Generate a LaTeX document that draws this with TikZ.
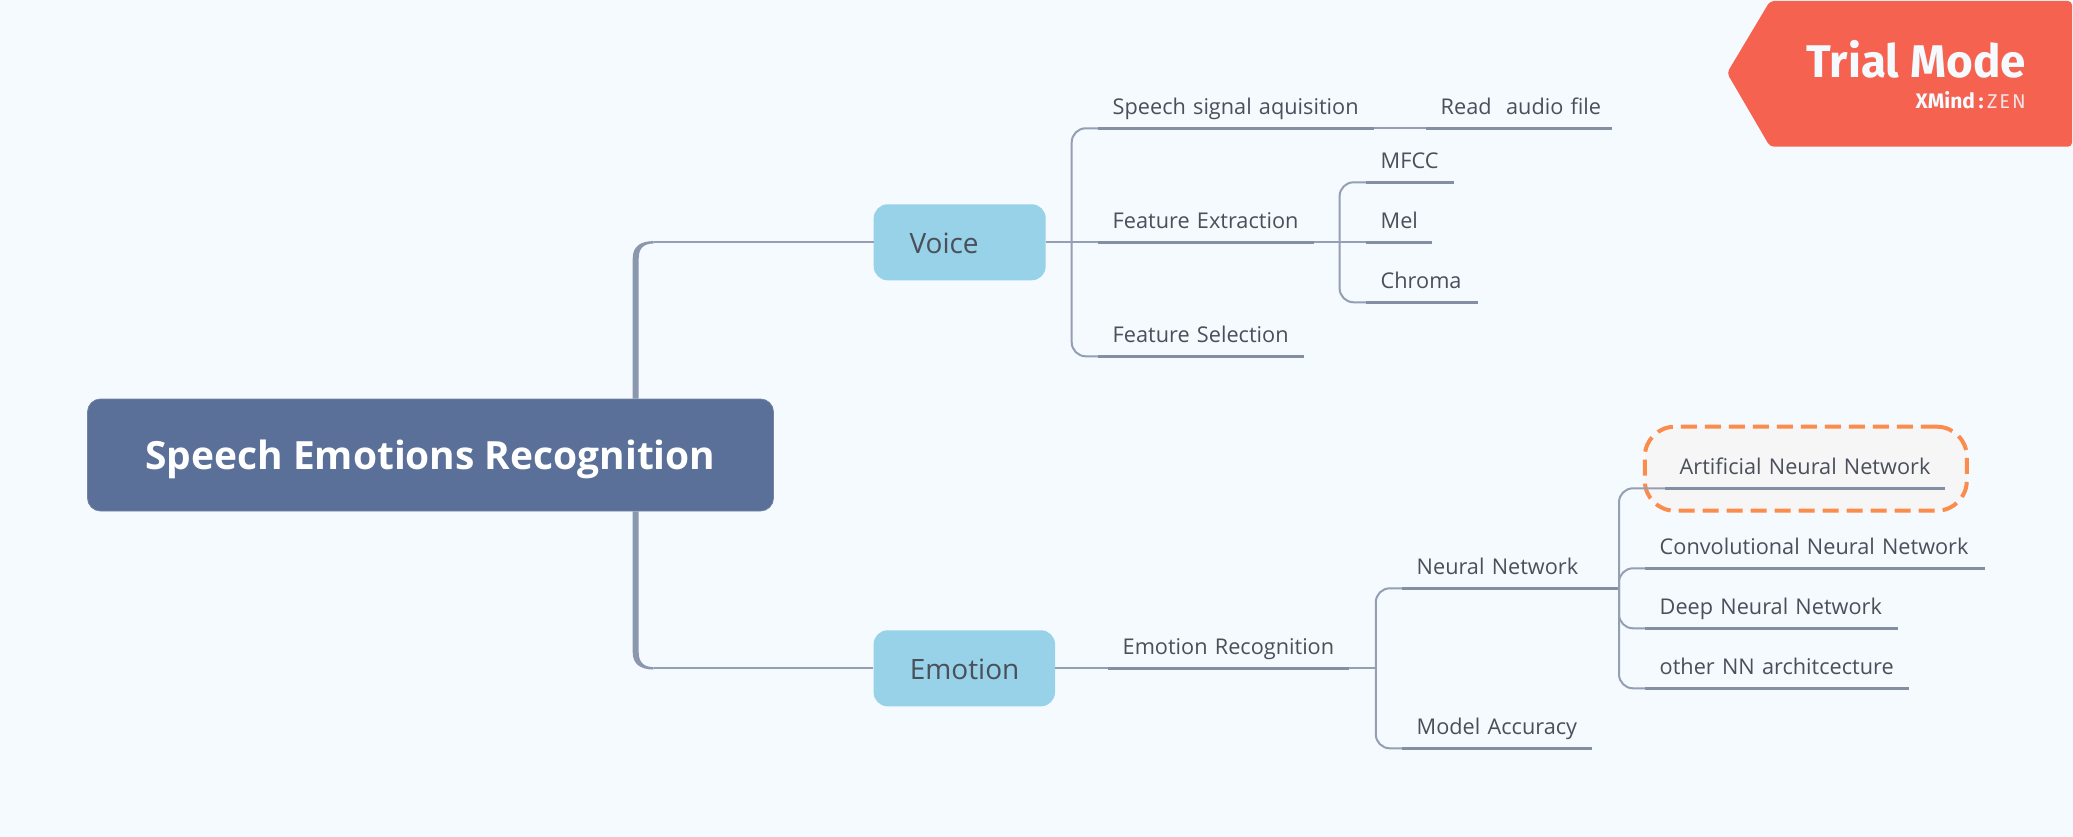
\documentclass[tikz,border=0pt]{standalone}
\usepackage{fontspec}
\setmainfont{Open Sans}
\newfontfamily\trialfont{Fira Sans}
\newfontfamily\zenfont{Fira Sans}[LetterSpace=10]
\usetikzlibrary{calc, positioning}
\definecolor{bgcol}{HTML}{F5FAFF}
\definecolor{rootcol}{HTML}{5A7099}
\definecolor{rootline}{HTML}{8B97AD}
\definecolor{subcol}{HTML}{97D2E8}
\definecolor{linecol}{HTML}{959FB3}
\definecolor{ulinecol}{HTML}{858FA3}
\definecolor{txtcol}{HTML}{4A4F5A}
\definecolor{trialcol}{HTML}{F56350}
\definecolor{hilitecol}{HTML}{FB8C4B}
\definecolor{hilitefill}{HTML}{F7F6F7}
\newcommand{\trunkarm}[3]{\fill[rootline] ($(#1 |- #2)+(-3,0)$) -- ($(#1)+(-3,#3*16)$) .. controls ($(#1)+(-3,#3*4)$) and ($(#1)+(5,#3*-1.2)$) .. ($(#1)+(18,#3*-1.2)$) -- ($(#1)+(18,#3*1.2)$) .. controls ($(#1)+(8,#3*1.2)$) and ($(#1)+(3,#3*6)$) .. ($(#1)+(3,#3*16)$) -- ($(#1 |- #2)+(3,0)$) -- cycle;}
\begin{document}
\begin{tikzpicture}[x=1pt, y=-1pt,
		rootnode/.style={
			draw=rootcol!50!rootline, line width=0.8pt,
			fill=rootcol,
			rounded corners=13pt,
			minimum width=686pt,
			minimum height=112pt,
			inner sep=0pt,
			text=white,
			font=\bfseries\fontsize{38.9}{44}\selectfont,
			text height=36pt, text depth=7.4pt
		},
		subnode/.style 2 args={
			fill=subcol,
			rounded corners=14pt,
			minimum width=#1pt,
			minimum height=76pt,
			inner sep=0pt,
			text width=#1pt,
			align=left,
			text=txtcol,
			font=\fontsize{28}{32}\selectfont,
			text height=24pt, text depth=1pt,
			execute at begin node={\hspace*{#2pt}}
		},
		topic/.style={
			anchor=south west,
			inner sep=0pt,
			text width=#1pt,
			align=left,
			text=txtcol,
			font=\fontsize{21.7}{26}\selectfont,
			text height=18pt, text depth=13.8pt,
			execute at begin node={\hspace*{14.5pt}}
		},
		uline/.style={ulinecol, line width=3pt},
		branch/.style={linecol, line width=2pt},
		elbow/.style={branch, rounded corners=14pt},
		hilite/.style={
			draw=hilitecol, fill=hilitefill,
			line width=4pt, dash pattern=on 16pt off 8pt,
			rounded corners=30pt,
			minimum width=322pt, minimum height=84pt,
			inner sep=0pt
		}]
	\useasboundingbox (0,0) rectangle (2073,837);
	\fill[bgcol] (0,0) rectangle (2073,837);

	% bends
	\coordinate (tv) at (635.7,242.3);
	\coordinate (te) at (635.7,668.3);
	\coordinate (bv) at (1071.7,242.3);
	\coordinate (bf) at (1339.6,242.3);
	\coordinate (be) at (1375.8,668.3);
	\coordinate (bn) at (1619,588.3);

	\node[hilite] (annbox) at (1805.8,468.7) {};

	\node[rootnode] (root) at (430.5,455) {Speech Emotions Recognition};
	\node[subnode={172}{35.8}] (voice) at (959.7,242.3) {Voice};
	\node[subnode={181.4}{36.2}] (emotion) at (964.3,668.3) {Emotion};

	\node[topic=275.6] (speech) at (1098,128.3) {Speech signal aquisition};
	\node[topic=186] (read) at (1426,128.3) {Read~ audio file};
	\node[topic=216] (fext) at (1098,242.3) {Feature Extraction};
	\node[topic=206] (fsel) at (1098,356.3) {Feature Selection};
	\node[topic=88] (mfcc) at (1366,182.3) {MFCC};
	\node[topic=66] (mel) at (1366,242.3) {Mel};
	\node[topic=112] (chroma) at (1366,302.3) {Chroma};
	\node[topic=241] (erec) at (1108,668.3) {Emotion Recognition};
	\node[topic=217] (nn) at (1402,588.3) {Neural Network};
	\node[topic=189.7] (macc) at (1402,748.3) {Model Accuracy};
	\node[topic=280] (ann) at (1665,488.3) {Artificial Neural Network};
	\node[topic=340] (cnn) at (1645,568.3) {Convolutional Neural Network};
	\node[topic=252.6] (dnn) at (1645,628.3) {Deep Neural Network};
	\node[topic=264] (other) at (1645,688.3) {other NN architcecture};

	% underlines
	\foreach \t in {speech,read,fext,fsel,mfcc,mel,chroma,erec,nn,macc,ann,cnn,dnn,other}
		\draw[uline] (\t.south west) -- (\t.south east);

	% main trunk
	\trunkarm{tv}{root.north}{1}
	\trunkarm{te}{root.south}{-1}
	\draw[branch] ($(tv)+(18,0)$) -- (voice.west);
	\draw[branch] ($(te)+(18,0)$) -- (emotion.west);

	% voice side
	\draw[branch] (voice.east) -- (fext.south west);
	\draw[elbow] (speech.south west) -| (bv) |- (fsel.south west);
	\draw[branch] (speech.south east) -- (read.south west);
	\draw[branch] (fext.south east) -- (mel.south west);
	\draw[elbow] (mfcc.south west) -| (bf) |- (chroma.south west);

	% emotion side
	\draw[branch] (emotion.east) -- (erec.south west);
	\draw[branch] (erec.south east) -- (be);
	\draw[elbow] (nn.south west) -| (be) |- (macc.south west);
	\draw[elbow] (ann.south west) -| (bn) |- (other.south west);
	\draw[elbow] (bn) |- (cnn.south west);
	\draw[elbow] (bn) |- (dnn.south west);

	% trial badge
	\fill[trialcol, rounded corners=4pt] (2072,1) -- (2072,146.7) -- (1770,146.7) -- (1727,73) -- (1770,1) -- cycle;
	\node[anchor=base east, inner sep=0pt, text=bgcol, font=\trialfont\bfseries\fontsize{45.8}{50}\selectfont] (trial) at (2026,78) {Trial Mode};
	\node[anchor=base east, inner sep=0pt, text=bgcol!85!trialcol, font=\zenfont\fontsize{20}{22}\selectfont] (zen) at (2026,109) {ZEN};
	\node[base left=3pt of zen, inner sep=0pt, text=bgcol, font=\trialfont\bfseries\fontsize{21}{22}\selectfont] (xmind) {XMind\,:};
\end{tikzpicture}
\end{document}
